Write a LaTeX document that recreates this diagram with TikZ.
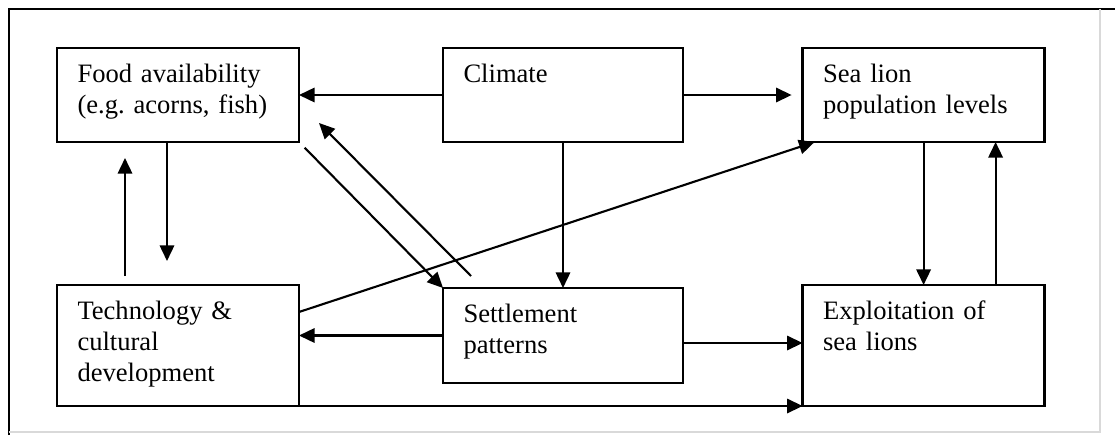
\documentclass[tikz,border=0pt]{standalone}
\usepackage{fontspec}
\setmainfont{Liberation Serif}
\usepackage{tikz}
\usetikzlibrary{arrows.meta, positioning, calc}
\tikzstyle{box} = [rectangle, draw, line width=1.8pt, outer sep=0pt, inner xsep=0.5125cm, inner ysep=0pt, align=left, text height=0.8625cm, font=\fontsize{18.9}{22}\selectfont]
\tikzstyle{side} = [box, text width=5.025cm]
\tikzstyle{mid} = [box, text width=4.975cm]
\tikzstyle{arrow} = [line width=1.5pt, -{Triangle[length=0.39cm, width=0.36cm]}]
\begin{document}
\begin{tikzpicture}
\useasboundingbox (0,0) rectangle (27.875,-10.875);
\draw[line width=1.4pt] (0.215,-10.875) -- (0.215,-0.225) -- (27.875,-0.225);
\draw[black!15, line width=0.8pt] (0.215,-10.8) -- (27.5,-10.8) -- (27.5,-0.225);

\node[side, text depth=1.4875cm, anchor=north west] (food) at (1.425,-1.2) {Food availability\\(e.g.\ acorns, fish)};

\node[mid, text depth=1.4875cm, right=3.6cm of food] (climate) {Climate};

\node[side, text depth=1.4875cm, right=2.99cm of climate] (sealion) {Sea lion\\population levels};

\node[side, text depth=2.1625cm, below=3.575cm of food] (tech) {Technology \&\\cultural\\development};

\node[mid, text depth=1.5125cm, below=3.65cm of climate] (settle) {Settlement\\patterns};

\node[side, text depth=2.1625cm, below=3.575cm of sealion] (exploit) {Exploitation of\\sea lions};

    \draw[arrow] (climate.west) -- (climate.west -| food.east);
    \draw[arrow, shorten >=0.275cm] (climate.east) -- (climate.east -| sealion.west);
    \draw[arrow] (climate.south) -- (settle.north);
    \draw[arrow, shorten >=0.6cm] ([xshift=-0.275cm]food.south) -- ([xshift=-0.275cm]tech.north);
    \draw[arrow, shorten <=0.225cm, shorten >=0.4cm] ([xshift=-1.325cm]tech.north) -- ([xshift=-1.325cm]food.south);
    \draw[arrow, shorten <=0.2cm] (food.south east) -- (settle.north west);
    \draw[arrow] ($(settle.north west)+(0.7,0.3)$) -- ($(food.south east)+(0.5,0.475)$);
    \draw[arrow] ([yshift=-0.675cm]tech.north east) -- ([xshift=0.3cm]sealion.south west);
    \draw[arrow] (settle.west) -- (settle.west -| tech.east);
    \draw[arrow] ([yshift=-0.1875cm]settle.east) -- ([yshift=-0.1875cm]settle.east -| exploit.west);
    \draw[arrow] (tech.south east) -- (exploit.south west);
    \draw[arrow] (sealion.south) -- (exploit.north);
    \draw[arrow] ([xshift=1.8cm]exploit.north) -- ([xshift=1.8cm]sealion.south);
\end{tikzpicture}
\end{document}
